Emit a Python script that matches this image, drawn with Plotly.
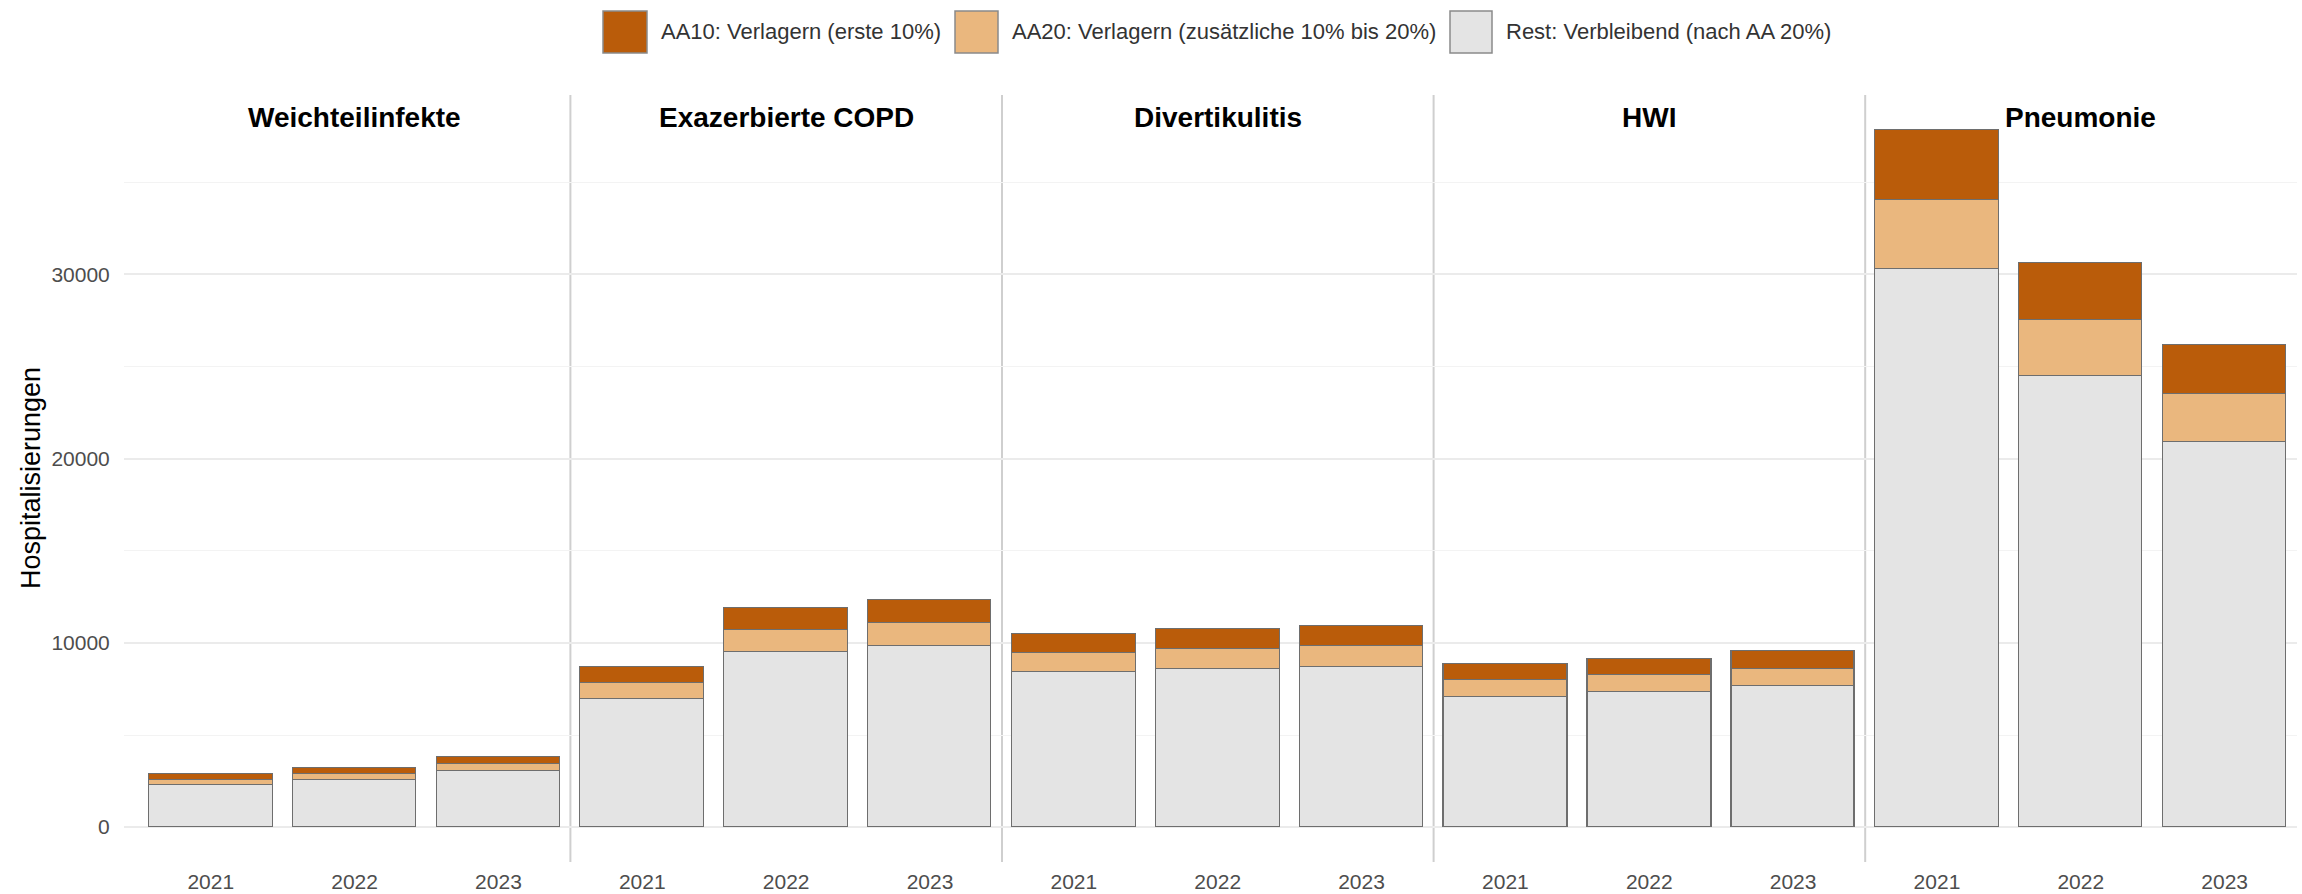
import plotly.graph_objects as go
from plotly.subplots import make_subplots

# ---------------- data ----------------
diagnoses = ["Weichteilinfekte", "Exazerbierte COPD", "Divertikulitis", "HWI", "Pneumonie"]
years = ["2021", "2022", "2023"]

# Rest: Verbleibend (nach AA 20%)
rest_values = [
    [2290, 2570, 3050],
    [6960, 9530, 9860],
    [8400, 8600, 8720],
    [7080, 7320, 7640],
    [30280, 24480, 20920],
]
# AA20: Verlagern (zusätzliche 10% bis 20%)
aa20_values = [
    [290, 320, 380],
    [870, 1190, 1230],
    [1050, 1075, 1090],
    [885, 915, 955],
    [3785, 3060, 2615],
]
# AA10: Verlagern (erste 10%)
aa10_values = [
    [290, 320, 380],
    [870, 1190, 1230],
    [1050, 1075, 1090],
    [885, 915, 955],
    [3785, 3060, 2615],
]

series_names = [
    "AA10: Verlagern (erste 10%)",
    "AA20: Verlagern (zusätzliche 10% bis 20%)",
    "Rest: Verbleibend (nach AA 20%)",
]
series_colors = ["#BA5C0A", "#EAB77E", "#E4E4E4"]
y_ticks = [0, 10000, 20000, 30000]
y_title = "Hospitalisierungen"

# ---------------- layout geometry (pixels) ----------------
W, H = 2302, 894
ML, MR, MT, MB = 124, 5, 95, 32
PW, PH = W - ML - MR, H - MT - MB
FONT = "Liberation Sans, Arial, sans-serif"
OUTLINE = "#6E6E6E"


def px_x(px):
    return (px - ML) / PW


def px_y(py):
    return (H - MB - py) / PH


bounds = [124, 570.4, 1002.0, 1433.6, 1865.2, 2297]
centers = [354.6 + 431.55 * i for i in range(5)]
unit = 143.85

total_max = max(r + a + b for rr, aa, bb in zip(rest_values, aa20_values, aa10_values)
                for r, a, b in zip(rr, aa, bb))
y_range = [-0.05 * total_max, 1.05 * total_max]

fig = make_subplots(rows=1, cols=5, shared_yaxes=True, horizontal_spacing=0)

for i, diag in enumerate(diagnoses):
    for name, vals, col in [
        (series_names[2], rest_values[i], series_colors[2]),
        (series_names[1], aa20_values[i], series_colors[1]),
        (series_names[0], aa10_values[i], series_colors[0]),
    ]:
        fig.add_trace(
            go.Bar(
                x=years, y=vals, name=name, width=0.86,
                marker=dict(color=col, line=dict(color=OUTLINE, width=1.3)),
                showlegend=False,
                hovertemplate=diag + " %{x}<br>" + name + ": %{y}<extra></extra>",
            ),
            row=1, col=i + 1,
        )

fig.update_layout(barmode="stack")

for i in range(5):
    c = centers[i]
    rl = 1 + (bounds[i] - c) / unit
    rr = 1 + (bounds[i + 1] - c) / unit
    xa = "xaxis" if i == 0 else f"xaxis{i + 1}"
    ya = "yaxis" if i == 0 else f"yaxis{i + 1}"
    fig.layout[xa].update(
        domain=[px_x(bounds[i]), px_x(bounds[i + 1])],
        range=[rl, rr], type="category", showgrid=False, zeroline=False,
        showline=False, ticks="outside", ticklen=1, tickcolor="rgba(0,0,0,0)",
        tickfont=dict(family=FONT, size=21, color="#4D4D4D"), automargin=False,
        fixedrange=True,
    )
    fig.layout[ya].update(
        range=y_range, tickvals=y_ticks, ticktext=[str(v) for v in y_ticks],
        showgrid=True, gridcolor="#EBEBEB", gridwidth=1.6, zeroline=False,
        showline=False, ticks="outside" if i == 0 else "", ticklen=9,
        tickcolor="rgba(0,0,0,0)", showticklabels=(i == 0),
        tickfont=dict(family=FONT, size=21, color="#4D4D4D"), automargin=False,
        minor=dict(tickvals=[5000, 15000, 25000, 35000], showgrid=True,
                   gridcolor="#F3F3F3", gridwidth=1.2),
        fixedrange=True,
    )

shapes = []
annotations = []

# panel dividers
for b in bounds[1:5]:
    shapes.append(dict(type="line", xref="paper", yref="paper", x0=px_x(b), x1=px_x(b),
                       y0=0, y1=1, line=dict(color="#CFCFCF", width=2), layer="below"))

# facet titles
for i, diag in enumerate(diagnoses):
    annotations.append(dict(text="<b>" + diag + "</b>", xref="paper", yref="paper",
                            x=px_x(centers[i]), y=px_y(117), xanchor="center",
                            yanchor="middle", showarrow=False,
                            font=dict(family=FONT, size=28, color="#000000")))

# y-axis title
annotations.append(dict(text=y_title, xref="paper", yref="paper", x=px_x(31),
                        y=px_y(478), textangle=-90, xanchor="center", yanchor="middle",
                        showarrow=False, font=dict(family=FONT, size=27, color="#000000")))

# legend (manual, large square keys)
key_pos = [(603, 647), (955, 998), (1450, 1492)]
for (x0, x1), name, col in zip(key_pos, series_names, series_colors):
    shapes.append(dict(type="rect", xref="paper", yref="paper", x0=px_x(x0), x1=px_x(x1),
                       y0=px_y(53), y1=px_y(11), fillcolor=col,
                       line=dict(color="#8A8A8A", width=1.5)))
    annotations.append(dict(text=name, xref="paper", yref="paper", x=px_x(x1 + 12),
                            y=px_y(32), xanchor="left", yanchor="middle", showarrow=False,
                            font=dict(family=FONT, size=22, color="#333333")))

fig.update_layout(
    width=W, height=H, template="none",
    margin=dict(l=ML, r=MR, t=MT, b=MB, autoexpand=False),
    paper_bgcolor="white", plot_bgcolor="white",
    shapes=shapes, annotations=annotations, showlegend=False, bargap=0,
    font=dict(family=FONT),
)

# remove the default 8px page margin so the figure fills the window exactly
fig.write_html(
    "out.html",
    config={"displayModeBar": False},
    post_script="document.body.style.margin='0';document.body.style.overflow='hidden';",
)
